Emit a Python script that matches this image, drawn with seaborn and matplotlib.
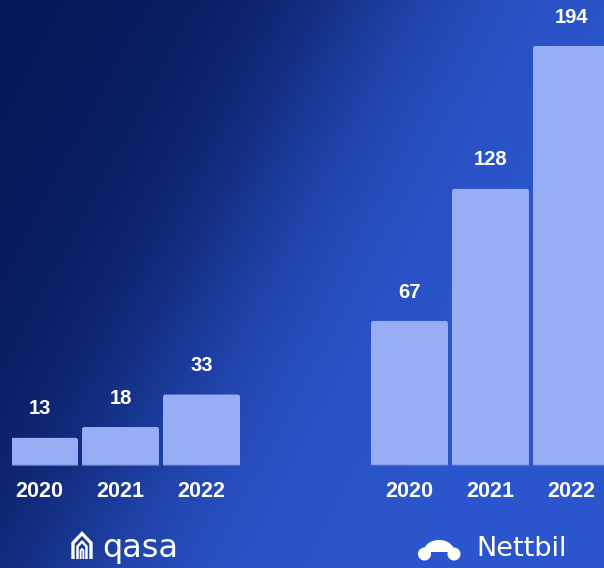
import numpy as np
import matplotlib
matplotlib.use("Agg")
import matplotlib.pyplot as plt
import seaborn as sns
import pandas as pd
from matplotlib.patches import Polygon, Circle, FancyBboxPatch

# Data
years = ["2020", "2021", "2022"]
qasa_values = [13, 18, 33]
nettbil_values = [67, 128, 194]
brands = ["qasa", "Nettbil"]

W, H = 604, 568
sns.set_theme(style="white")
plt.rcParams["font.family"] = ["Liberation Sans", "DejaVu Sans"]

fig = plt.figure(figsize=(W / 100, H / 100), dpi=100)

# Diagonal navy-to-blue backdrop, drawn in pixel units
bg = fig.add_axes([0, 0, 1, 1], zorder=0)
yy, xx = np.mgrid[0:H, 0:W]
s = xx / W + 0.5 * yy / H
t = 1.0 / (1.0 + np.exp(-(s - 0.6) / 0.12))
c0 = np.array([6, 26, 90]) / 255
c1 = np.array([44, 86, 205]) / 255
img = c0 + t[..., None] * (c1 - c0)
bg.imshow(img, extent=(0, W, H, 0), aspect="auto", interpolation="bilinear")
bg.set_xlim(0, W)
bg.set_ylim(H, 0)
bg.axis("off")

BAR = "#97adf4"
PX_PER_UNIT = 2.165
BASE = 466
PITCH = 81


def bar_panel(left, right, first_center, values):
    ax = fig.add_axes([left / W, (H - BASE) / H, (right - left) / W, BASE / H], zorder=1)
    df = pd.DataFrame({"year": years, "value": values})
    sns.barplot(data=df, x="year", y="value", color=BAR, saturation=1,
                width=0.95, linewidth=0, ax=ax)
    ax.set_xlim((left - first_center) / PITCH, (right - first_center) / PITCH)
    ax.set_ylim(0, BASE / PX_PER_UNIT)
    ax.patch.set_alpha(0)
    for sp in ax.spines.values():
        sp.set_visible(False)
    ax.set_yticks([])
    ax.set_xlabel("")
    ax.set_ylabel("")
    ax.tick_params(axis="x", length=0, pad=10.5, labelsize=15.5, labelcolor="white")
    for lbl in ax.get_xticklabels():
        lbl.set_fontweight("bold")

    # soften the bar corners slightly and add a faint shadow line at the foot
    aspect = PITCH / PX_PER_UNIT
    for bar in ax.containers[0]:
        x0, y0 = bar.get_x(), bar.get_y()
        w, h = bar.get_width(), bar.get_height()
        bar.set_visible(False)
        ax.add_patch(FancyBboxPatch((x0, y0), w, h,
                                    boxstyle="round,pad=0,rounding_size=0.028",
                                    mutation_aspect=aspect, facecolor=BAR,
                                    edgecolor="none", zorder=2))
        ax.plot([x0, x0 + w], [0.25, 0.25], color="#5a6db0", lw=1.0,
                solid_capstyle="butt", zorder=3)

    ax.bar_label(ax.containers[0], labels=[str(v) for v in values], padding=14,
                 color="white", fontsize=14.5, fontweight="bold")
    return ax


bar_panel(12, 250, 39.5, qasa_values)
bar_panel(330, 604, 409.5, nettbil_values)

# Brand marks under each group
WHITE = "white"
bg.text(102, 557, brands[0], color=WHITE, fontsize=23, family="DejaVu Sans",
        ha="left", va="baseline")
bg.text(476, 556.5, brands[1], color=WHITE, fontsize=19.5, family="DejaVu Sans",
        ha="left", va="baseline")

# house outline icon
bg.plot([73, 73, 82, 91, 91], [559, 543, 533.5, 543, 559], color=WHITE, lw=2.4,
        solid_joinstyle="miter", solid_capstyle="butt")
bg.plot([77.5, 77.5, 82, 86.5, 86.5], [559, 546.5, 541.5, 546.5, 559], color=WHITE,
        lw=1.8, solid_joinstyle="round", solid_capstyle="butt")
bg.plot([80.6, 80.6, 82, 83.4, 83.4], [559, 550.5, 549, 550.5, 559], color=WHITE,
        lw=1.4, solid_joinstyle="round", solid_capstyle="butt")

# car icon: half-dome body on two wheels
th = np.linspace(np.pi, 0, 80)
dome = np.column_stack([439 + 15.5 * np.cos(th), 552 - 12 * np.sin(th)])
bg.add_patch(Polygon(dome, closed=True, color=WHITE, lw=0))
bg.add_patch(Circle((424.5, 554), 6.5, color=WHITE, lw=0))
bg.add_patch(Circle((454, 554), 6.5, color=WHITE, lw=0))

fig.savefig("out.png", dpi=100)
